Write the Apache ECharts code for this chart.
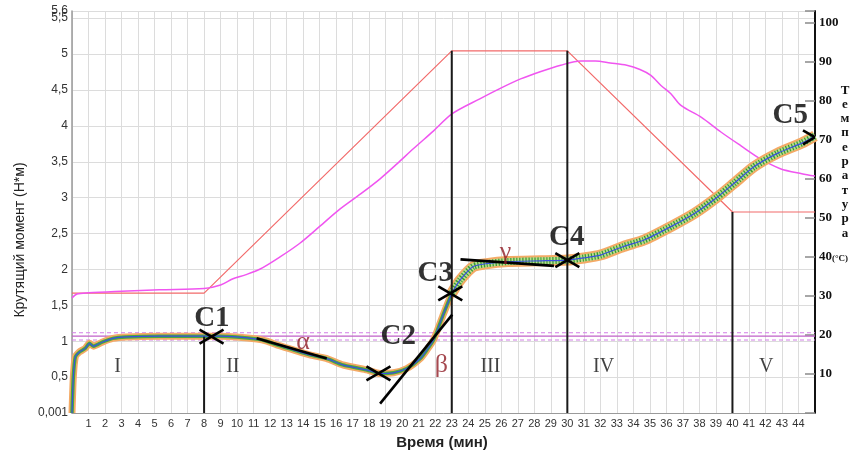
<!DOCTYPE html>
<html>
<head>
<meta charset="utf-8">
<script src="https://cdn.jsdelivr.net/npm/echarts@6/dist/echarts.min.js"></script>
<style>
  html, body { margin: 0; padding: 0; background: #fff; }
  #chart { width: 852px; height: 454px; }
</style>
</head>
<body>
<div id="chart"></div>
<script>
// Torque (Н*м) over time (мин)
const torqueTime = [0, 0.08, 0.2, 0.45, 0.8, 1.06, 1.3, 1.5, 1.86, 2.47, 3.28, 5.3, 7.94,
  9.0, 9.96, 11.2, 11.8, 12.4, 13.4, 14.4, 15.4, 16.4, 17.2, 17.86, 18.66, 19.47, 20.28,
  21.1, 21.5, 21.9, 22.5, 23.0, 23.5, 24.3, 25.1, 26.4, 28.4, 30.0, 31.0, 32.0, 33.4,
  34.65, 36.3, 37.7, 39.1, 40.1, 41.3, 42.75, 44.2, 45];
const torqueValue = [0, 0.5, 0.78, 0.85, 0.9, 0.97, 0.93, 0.95, 0.99, 1.04, 1.06, 1.07, 1.07,
  1.07, 1.06, 1.03, 1.0, 0.95, 0.88, 0.81, 0.76, 0.67, 0.63, 0.6, 0.55, 0.56, 0.62,
  0.76, 0.88, 1.02, 1.38, 1.67, 1.85, 2.04, 2.08, 2.11, 2.12, 2.13, 2.16, 2.2, 2.32,
  2.41, 2.6, 2.78, 3.01, 3.2, 3.43, 3.62, 3.76, 3.86];

// Measured temperature (°C)
const tempTime = [0, 0.3, 1, 3, 5.3, 8, 9.0, 9.75, 10.5, 11.4, 12.6, 13.8, 15.0, 16.24,
  17.5, 18.66, 19.7, 20.67, 21.9, 23.03, 24.7, 26.0, 27.17, 28.4, 29.6, 30.8, 31.7, 32.6,
  33.6, 34.4, 35.06, 35.67, 36.27, 36.88, 38.1, 39.3, 40.5, 41.7, 42.9, 44.2, 45];
const tempValue = [29.5, 30.5, 30.8, 31.2, 31.6, 31.9, 32.8, 34.4, 35.4, 36.9, 40.0, 43.5, 47.8, 52.3,
  56.2, 60.0, 63.9, 67.7, 72.3, 76.7, 80.5, 83.3, 85.6, 87.5, 89.1, 90.2, 90.2, 89.7,
  89.1, 88.0, 86.5, 83.9, 81.8, 78.8, 75.8, 72.0, 68.5, 65.1, 62.6, 61.3, 60.7];

// Programmed temperature (°C)
const setTime = [0, 8, 23, 30, 40, 45];
const setValue = [30.7, 30.7, 92.8, 92.8, 51.5, 51.5];

// Torque axis range; the top value gets its own label
const torqueMax = 5.6;
const torqueTopTicks = [5.6];

// Reference torque levels
const refSolid = 1.07;
const refDashed = [1.118, 1.017];

// Stage boundaries (мин)
const boundaryTime = [8, 23, 30, 40];

// Characteristic points C1..C5
const pointNames = ['C1', 'C2', 'C3', 'C4', 'C5'];
const pointTime = [8.45, 18.56, 22.91, 30.0, 45.0];
const pointValue = [1.063, 0.553, 1.667, 2.13, 3.84];
const pointLabelTime = [8.47, 19.76, 22.0, 29.96, 43.5];
const pointLabelValue = [1.32, 1.07, 1.94, 2.44, 4.15];

// Tangent lines and their angle names
const angleNames = ['α', 'β', 'γ'];
const tangentStart = [[11.18, 1.04], [18.66, 0.13], [23.53, 2.14]];
const tangentEnd = [[15.43, 0.76], [23.03, 1.37], [29.19, 2.05]];
const angleLabelTime = [13.99, 22.37, 26.25];
const angleLabelValue = [0.99, 0.67, 2.24];

// Stage numerals
const stageNames = ['I', 'II', 'III', 'IV', 'V'];
const stageTime = [2.76, 9.74, 25.34, 32.2, 42.04];
const stageLabelValue = 0.64;

const SANS = '"Liberation Sans", Arial, sans-serif';
const SERIF = '"Liberation Serif", "Times New Roman", serif';

const torqueAll = torqueTime.map((t, i) => [t, torqueValue[i]]);
const torqueEarly = torqueAll.filter(p => p[0] <= 23);
const torqueLate = torqueAll.filter(p => p[0] >= 23);

function bandSeries(data, outerW, midW, dashed) {
  return [
    { type: 'line', data, smooth: 0.2, showSymbol: false, silent: true, z: 4,
      lineStyle: { color: '#f4aa66', width: outerW } },
    { type: 'line', data, smooth: 0.2, showSymbol: false, silent: true, z: 5,
      lineStyle: { color: dashed ? '#b9dc92' : '#4aa83e', width: midW } },
    dashed ? { type: 'line', data, smooth: 0.2, showSymbol: false, silent: true, z: 5,
      lineStyle: { color: '#3a9a2c', width: midW, type: [1.2, 1.8] } } : null,
    { type: 'line', data, smooth: 0.2, showSymbol: false, silent: true, z: 6,
      lineStyle: { color: '#3a4fe0', width: 1.2 } }
  ].filter(Boolean);
}

function textSeries(names, times, values, style) {
  return {
    type: 'scatter', symbolSize: 1, silent: true, z: 12,
    itemStyle: { color: 'rgba(0,0,0,0)' },
    data: names.map((n, i) => ({ name: n, value: [times[i], Array.isArray(values) ? values[i] : values] })),
    label: Object.assign({ show: true, position: 'inside', formatter: p => p.name,
      align: 'center', verticalAlign: 'middle' }, style)
  };
}

const torqueLabel = v => (v === 0 ? '0,001' : String(Math.round(v * 10) / 10).replace('.', ','));

const series = [];

// Horizontal reference levels
series.push({ type: 'line', data: [[0, refSolid], [45, refSolid]], showSymbol: false, silent: true, z: 2,
  lineStyle: { color: '#c060c8', width: 1.2 } });
refDashed.forEach(v => series.push({ type: 'line', data: [[0, v], [45, v]], showSymbol: false, silent: true, z: 2,
  lineStyle: { color: '#d27ee6', width: 1.2, type: [4, 3] } }));

// Temperature curves on the right axis
series.push({ type: 'line', yAxisIndex: 1, data: setTime.map((t, i) => [t, setValue[i]]),
  showSymbol: false, silent: true, z: 3, lineStyle: { color: '#f26a6a', width: 1.2 } });
series.push({ type: 'line', yAxisIndex: 1, data: tempTime.map((t, i) => [t, tempValue[i]]),
  smooth: 0.3, showSymbol: false, silent: true, z: 3, lineStyle: { color: '#f055f0', width: 1.5 } });

// Torque band
series.push(...bandSeries(torqueEarly, 7, 3.5, false));
series.push(...bandSeries(torqueLate, 11, 7, true));

// Stage boundaries
boundaryTime.forEach(t => {
  if (t === 8) {
    series.push({ type: 'line', data: [[t, 0], [t, pointValue[0]]], showSymbol: false, silent: true, z: 8,
      lineStyle: { color: '#1a1a1a', width: 2 } });
  } else {
    const top = setValue[setTime.indexOf(t)];
    series.push({ type: 'line', yAxisIndex: 1, data: [[t, 0], [t, top]], showSymbol: false, silent: true, z: 8,
      lineStyle: { color: '#1a1a1a', width: 2 } });
  }
});

// Tangents
tangentStart.forEach((s, i) => series.push({ type: 'line', data: [s, tangentEnd[i]], showSymbol: false,
  silent: true, z: 9, lineStyle: { color: '#000', width: 2.6 } }));

// Cross marks at the characteristic points
series.push({
  type: 'custom', clip: true, z: 10, silent: true,
  data: pointTime.map((t, i) => [t, pointValue[i]]),
  renderItem(params, api) {
    const p = api.coord([api.value(0), api.value(1)]);
    const w = 12, h = 7;
    const st = { stroke: '#000', lineWidth: 2.6 };
    return { type: 'group', children: [
      { type: 'line', shape: { x1: p[0] - w, y1: p[1] - h, x2: p[0] + w, y2: p[1] + h }, style: st },
      { type: 'line', shape: { x1: p[0] - w, y1: p[1] + h, x2: p[0] + w, y2: p[1] - h }, style: st }
    ] };
  }
});

// Text annotations
series.push(textSeries(pointNames, pointLabelTime, pointLabelValue,
  { color: '#000', fontFamily: SERIF, fontWeight: 'bold', fontSize: 29 }));
series.push(textSeries(angleNames, angleLabelTime, angleLabelValue,
  { color: '#8e1c24', fontFamily: SERIF, fontSize: 26 }));
series.push(textSeries(stageNames, stageTime, stageLabelValue,
  { color: '#111', fontFamily: SERIF, fontSize: 20 }));

const option = {
  backgroundColor: '#fff',
  animation: false,
  grid: { left: 72, right: 37, top: 11, bottom: 41 },
  xAxis: {
    type: 'value', min: 0, max: 45, interval: 1,
    axisLine: { show: true, lineStyle: { color: '#9a9a9a', width: 1 } },
    axisTick: { show: false },
    splitLine: { show: true, lineStyle: { color: '#dcdcdc', width: 1 } },
    axisLabel: { color: '#333', fontFamily: SANS, fontSize: 11, margin: 5,
      formatter: v => (v >= 1 && v <= 44 ? String(v) : '') }
  },
  yAxis: [
    {
      type: 'value', min: 0, max: torqueMax, interval: 0.5, position: 'left',
      axisLine: { show: true, lineStyle: { color: '#9a9a9a', width: 1.5 } },
      axisTick: { show: false },
      splitLine: { show: true, lineStyle: { color: '#dcdcdc', width: 1 } },
      axisLabel: { color: '#333', fontFamily: SANS, fontSize: 12, margin: 4, formatter: torqueLabel }
    },
    {
      type: 'value', min: 0, max: 103, interval: 10, position: 'right',
      axisLine: { show: true, onZero: false, lineStyle: { color: '#111', width: 2 } },
      axisTick: { show: true, inside: true, length: 10, lineStyle: { color: '#8a8a8a', width: 1.5 } },
      splitLine: { show: false },
      axisLabel: { color: '#111', fontFamily: SERIF, fontWeight: 'bold', fontSize: 13, margin: 4,
        formatter: v => (v > 0 && v <= 100 && v % 10 === 0 ? String(v) : '') }
    },
    {
      // top label of the torque scale
      type: 'value', min: 0, max: torqueMax, position: 'left',
      axisLine: { show: false }, axisTick: { show: false },
      splitLine: { show: true, lineStyle: { color: '#dcdcdc', width: 1 } },
      axisLabel: { color: '#333', fontFamily: SANS, fontSize: 12, margin: 4,
        customValues: torqueTopTicks, formatter: torqueLabel }
    }
  ],
  graphic: [
    { type: 'text', x: 20, y: 240, rotation: Math.PI / 2,
      style: { text: 'Крутящий момент (Н*м)', fill: '#222', font: '14px ' + SANS,
        align: 'center', verticalAlign: 'middle' } },
    { type: 'text', x: 442, y: 443,
      style: { text: 'Время (мин)', fill: '#222', font: 'bold 15px ' + SANS,
        align: 'center', verticalAlign: 'middle' } },
    { type: 'text', x: 845, y: 83,
      style: { text: 'Т\nе\nм\nп\nе\nр\nа\nт\nу\nр\nа', fill: '#111', font: 'bold 13px ' + SERIF,
        lineHeight: 14.3, align: 'center', verticalAlign: 'top' } },
    { type: 'text', x: 832, y: 259,
      style: { text: '(°C)', fill: '#111', font: 'bold 9px ' + SERIF,
        align: 'left', verticalAlign: 'middle' } }
  ],
  series
};

echarts.init(document.getElementById('chart'), null, { renderer: 'canvas' }).setOption(option);
</script>
</body>
</html>
